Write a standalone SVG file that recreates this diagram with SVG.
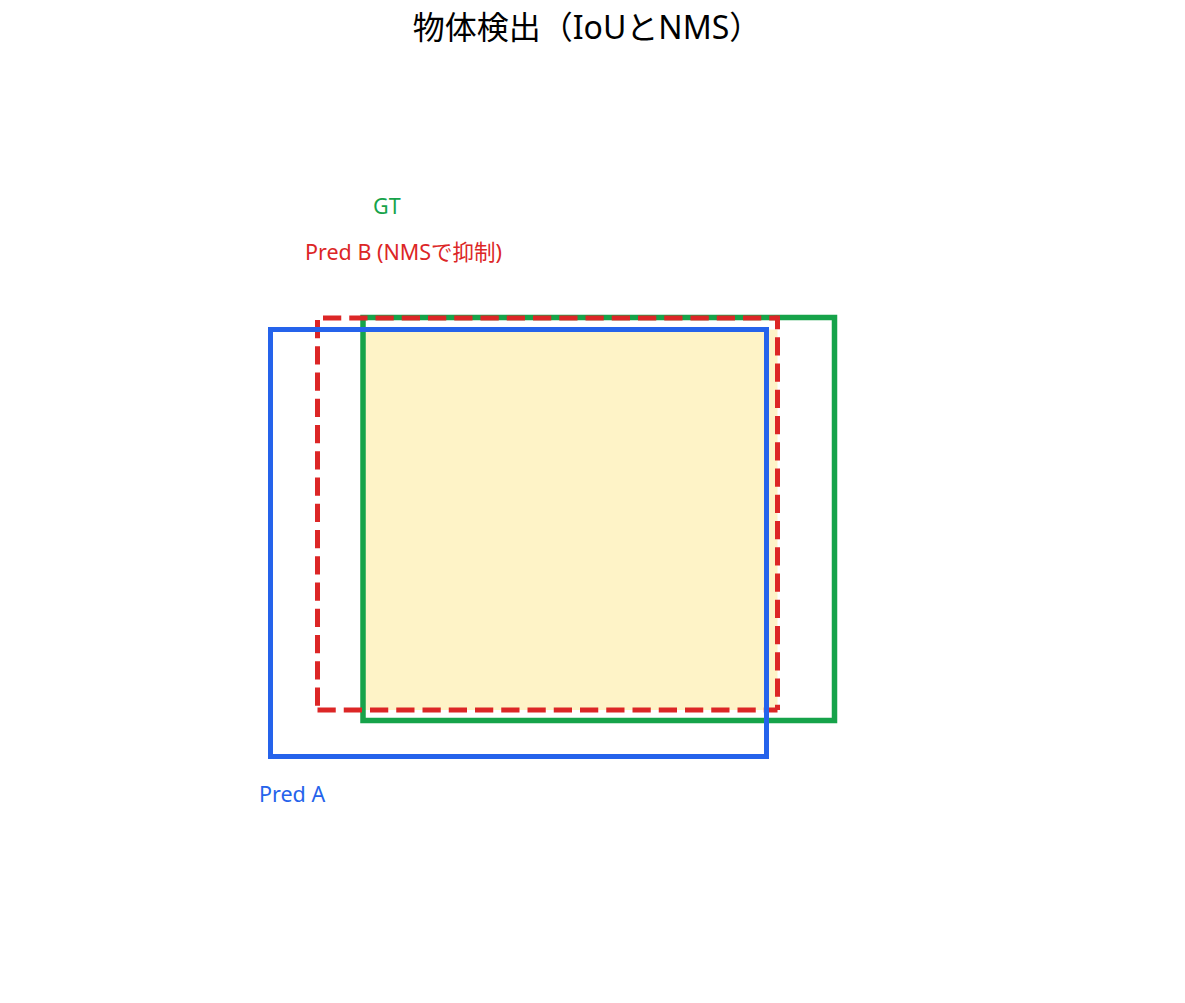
<svg xmlns="http://www.w3.org/2000/svg" width="1185" height="1003" viewBox="0 0 1185 1003">
<style>
.lbl{font-family:"Noto Sans","Noto Sans CJK JP",sans-serif;font-size:21.5px}
.title{font-family:"Noto Sans","Noto Sans CJK JP",sans-serif;font-size:32px;fill:#000}
.box{fill:none}
.dash{stroke:#DC2626;stroke-width:5;stroke-dasharray:18.25 8;fill:none}
</style>
<rect width="1185" height="1003" fill="#fff"/>
<text class="title" x="587" y="39" text-anchor="middle">物体検出（IoUとNMS）</text>
<g id="intersection">
<rect x="363" y="329.5" width="414.5" height="380.5" fill="#FEF3C7"/>
</g>
<g id="gt">
<rect class="box" x="363" y="317.5" width="471.5" height="403" stroke="#16A34A" stroke-width="5.5"/>
<text class="lbl" x="373" y="214" fill="#16A34A">GT</text>
</g>
<g id="predB">
<line class="dash" x1="317.5" y1="318" x2="777.5" y2="318" stroke-dashoffset="20.75"/>
<line class="dash" x1="317.5" y1="318" x2="317.5" y2="710" stroke-dashoffset="24.25"/>
<line class="dash" x1="317.5" y1="710" x2="777.5" y2="710"/>
<line class="dash" x1="777.5" y1="315.5" x2="777.5" y2="710" stroke-dashoffset="4.45"/>
<text class="lbl" x="305" y="260" fill="#DC2626">Pred B (NMSで抑制)</text>
</g>
<g id="predA">
<rect class="box" x="270.5" y="329.5" width="496" height="427" stroke="#2563EB" stroke-width="5"/>
<text class="lbl" x="259" y="802" fill="#2563EB">Pred A</text>
</g>
<g id="connectors"/>
</svg>
